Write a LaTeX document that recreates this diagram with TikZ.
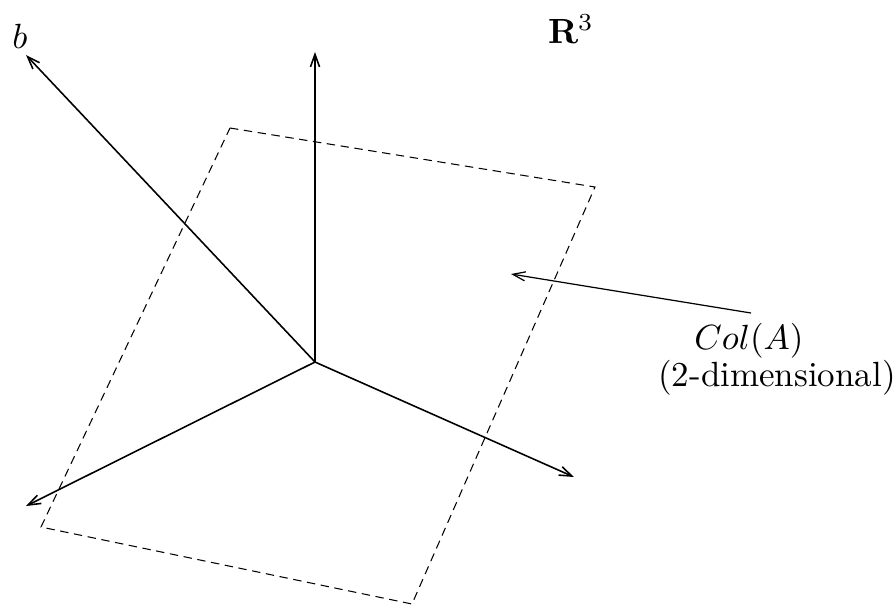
\documentclass[tikz,border=0pt]{standalone}
\usetikzlibrary{arrows.meta}
\begin{document}
\begin{tikzpicture}[x=0.2857pt,y=-0.2857pt,
  vec/.style={line width=0.45pt,-{Straight Barb[length=3.6pt,width=2.6pt]}},
  plane/.style={line width=0.3pt,dash pattern=on 2.4pt off 1.6pt},
  lbl/.style={inner sep=0pt}]
\useasboundingbox (0,0) rectangle (896,607);
\coordinate (O) at (315,362);
\coordinate (up) at (315,52);
\coordinate (bt) at (26,55);
\coordinate (lt) at (26,506);
\coordinate (rt) at (574,477);
\coordinate (P1) at (230,128);
\coordinate (P2) at (595,187);
\coordinate (P3) at (412,604);
\coordinate (P4) at (41,527);
\coordinate (cs) at (751,313);
\coordinate (ct) at (511,274);
\draw[plane] (P1) -- (P2) -- (P3) -- (P4) -- cycle;
\draw[vec] (O) -- (up);
\draw[vec] (O) -- (bt);
\draw[vec] (O) -- (lt);
\draw[vec] (O) -- (rt);
\draw[vec,line width=0.35pt] (cs) -- (ct);
\node[lbl] (b) at (20,36) {$b$};
\node[lbl] (R) at (571,29) {$\mathbf{R}^3$};
\node[lbl] (col) at (749,341) {$Col(A)$};
\node[lbl] (dim) at (777,378) {(2-dimensional)};
\end{tikzpicture}
\end{document}
